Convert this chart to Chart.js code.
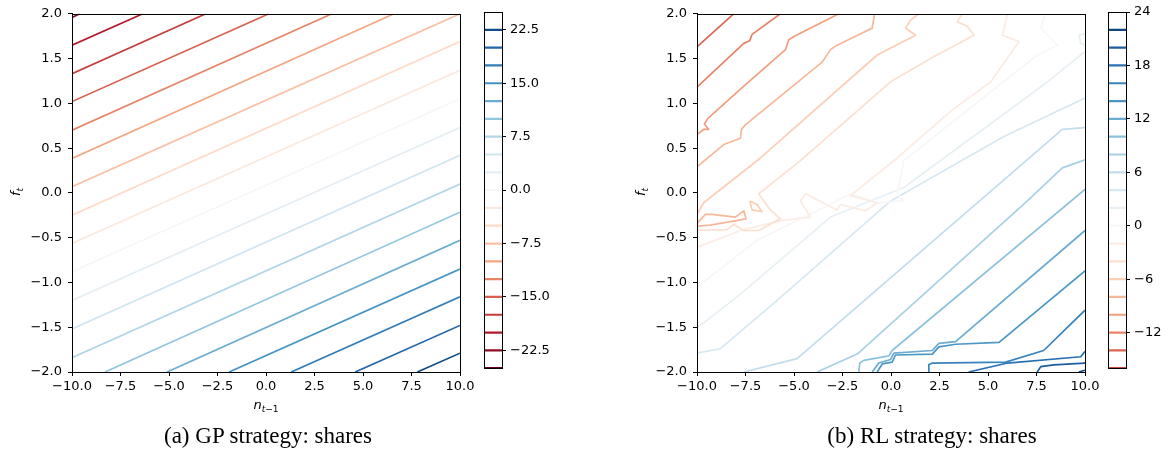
<!DOCTYPE html>
<html>
<head>
<meta charset="utf-8">
<script src="https://cdn.jsdelivr.net/npm/chart.js@4.4.1/dist/chart.umd.min.js"></script>
<style>
  body { margin: 0; width: 1169px; height: 463px; background: #fff; position: relative; overflow: hidden; }
  canvas { position: absolute; top: 0; }
  .lbl { position: absolute; color: #000; white-space: nowrap; font-family: "DejaVu Sans"; font-size: 13px; transform: translate(-50%, -50%); }
  .lbl sub { font-size: 70%; vertical-align: -3px; }
  .ylab { transform: translate(-50%, -50%) rotate(-90deg); }
  .cap { position: absolute; font-family: "Liberation Serif"; font-size: 23px; white-space: nowrap; transform: translate(-50%, -50%); color: #000; }
</style>
</head>
<body>
<canvas id="gp" width="480" height="420" style="left:0"></canvas>
<canvas id="gpBar" width="100" height="380" style="left:470px"></canvas>
<canvas id="rl" width="480" height="420" style="left:625px"></canvas>
<canvas id="rlBar" width="75" height="380" style="left:1094px"></canvas>

<div class="lbl ylab" style="left:16px; top:192px"><i>f</i><sub><i>t</i></sub></div>
<div class="lbl" style="left:266px; top:405px"><i>n</i><sub><i>t</i>−1</sub></div>
<div class="lbl ylab" style="left:641px; top:192px"><i>f</i><sub><i>t</i></sub></div>
<div class="lbl" style="left:891px; top:405px"><i>n</i><sub><i>t</i>−1</sub></div>
<div class="cap" style="left:268px; top:436px">(a) GP strategy: shares</div>
<div class="cap" style="left:932px; top:436px">(b) RL strategy: shares</div>

<script>
// axis ticks shared by both panels
const nTicks = [-10, -7.5, -5, -2.5, 0, 2.5, 5, 7.5, 10];
const fTicks = [-2, -1.5, -1, -0.5, 0, 0.5, 1, 1.5, 2];

// GP strategy: contour levels and their lines in (n_{t-1}, f_t)
const gpLevels = [-22.5, -20, -17.5, -15, -12.5, -10, -7.5, -5, -2.5, 0, 2.5, 5, 7.5, 10, 12.5, 15, 17.5, 20, 22.5];
const gpPaths = [
  [[-10, 1.96], [-9.6, 2]],
  [[-10, 1.65], [-6.35, 2]],
  [[-10, 1.33], [-3.1, 2]],
  [[-10, 1.02], [0.15, 2]],
  [[-10, 0.70], [3.4, 2]],
  [[-10, 0.385], [6.6, 2]],
  [[-10, 0.07], [10, 2.0]],
  [[-10, -0.25], [10, 1.69]],
  [[-10, -0.565], [10, 1.37]],
  [[-10, -0.88], [10, 1.05]],
  [[-10, -1.20], [10, 0.73]],
  [[-10, -1.52], [10, 0.42]],
  [[-10, -1.84], [10, 0.10]],
  [[-8.3, -2], [10, -0.215]],
  [[-5.1, -2], [10, -0.53]],
  [[-1.9, -2], [10, -0.85]],
  [[1.3, -2], [10, -1.16]],
  [[4.6, -2], [10, -1.48]],
  [[7.8, -2], [10, -1.79]]
];
const gpBarLevels = [-25, -22.5, -20, -17.5, -15, -12.5, -10, -7.5, -5, -2.5, 0, 2.5, 5, 7.5, 10, 12.5, 15, 17.5, 20, 22.5, 25];
const gpBarTicks = [-22.5, -15, -7.5, 0, 7.5, 15, 22.5];

// RL strategy: one level per path (a level can have several paths)
const rlLevels = [-14, -12, -10, -8, -8, -6, -6, -4, -2, 0, 2, 2, 4, 6, 8, 10, 12, 14, 16, 18, 20, 22];
const rlPaths = [
  [[-10, 1.63], [-8.11, 2]],
  [[-10, 1.18], [-7.59, 1.67], [-7.28, 1.70], [-7.16, 1.77], [-5.70, 2]],
  [[-10, 0.65], [-9.66, 0.71], [-9.40, 0.71], [-9.62, 0.77], [-9.45, 0.83], [-7.76, 1.16], [-5.44, 1.60], [-5.27, 1.71], [-4.98, 1.75], [-2.69, 2]],
  [[-10, 0.29], [-8.62, 0.54], [-7.76, 0.61], [-7.71, 0.71], [-7.51, 0.76], [-3.55, 1.46], [-3.12, 1.60], [-2.78, 1.65], [-0.97, 1.84], [-0.85, 2]],
  [[-10, -0.34], [-9.57, -0.24], [-9.23, -0.24], [-8.02, -0.27], [-7.59, -0.2], [-7.47, -0.29], [-8.28, -0.32], [-9.31, -0.36], [-10, -0.37]],
  [[-10, -0.24], [-9.66, -0.11], [-6.73, 0.39], [-0.71, 1.54], [1.27, 1.76], [0.75, 1.84], [1.01, 1.93], [1.44, 2]],
  [[-7.28, -0.09], [-7.16, -0.19], [-6.65, -0.21], [-6.90, -0.13], [-7.28, -0.09]],
  [[-10, -0.42], [-8.45, -0.41], [-8.11, -0.35], [-7.59, -0.42], [-6.82, -0.42], [-5.70, -0.29], [-6.22, -0.19], [-6.82, -0.01], [-4.67, 0.36], [-0.02, 1.24], [2.04, 1.50], [4.28, 1.76], [3.93, 1.86], [3.42, 1.91], [3.67, 2]],
  [[-10, -0.61], [-7.76, -0.42], [-5.70, -0.31], [-4.15, -0.27], [-4.67, -0.09], [-4.41, -0.01], [-2.78, -0.19], [-2.60, -0.13], [-1.31, -0.20], [-0.71, -0.11], [-2.09, -0.03], [0.32, 0.39], [3.07, 0.91], [5.14, 1.24], [6.60, 1.69], [5.74, 1.76], [5.91, 1.91], [6.00, 2]],
  [[-10, -1.05], [-6.90, -0.53], [-3.46, -0.16], [-2.09, -0.01], [-0.71, -0.11], [0.66, -0.09], [0.32, -0.01], [0.66, 0.36], [7.54, 1.54], [8.58, 1.65], [7.72, 1.84], [7.97, 2]],
  [[-10, -1.51], [-7.76, -1.13], [-3.12, -0.27], [0.66, 0.06], [7.89, 1.21], [10, 1.58]],
  [[10, 1.78], [9.69, 1.76], [9.78, 1.67], [10, 1.65]],
  [[-10, -1.79], [-8.80, -1.74], [-5.87, -1.20], [-0.02, -0.09], [5.82, 0.63], [10, 1.06]],
  [[-7.59, -2], [-4.84, -1.85], [8.83, 0.71], [10, 0.73]],
  [[-3.81, -2], [-2.78, -1.90], [-1.74, -1.80], [7.03, -0.09], [8.83, 0.28], [10, 0.37]],
  [[-1.66, -2], [-1.61, -1.90], [-1.40, -1.87], [-0.11, -1.82], [0.06, -1.76], [10, 0.04]],
  [[-0.97, -2], [-0.63, -1.90], [-0.02, -1.86], [0.15, -1.79], [2.13, -1.76], [2.47, -1.68], [3.33, -1.66], [10, -0.42]],
  [[-0.71, -2], [-0.45, -1.91], [0.06, -1.89], [0.23, -1.81], [2.13, -1.80], [2.47, -1.72], [3.33, -1.69], [5.57, -1.67], [10, -0.87]],
  [[1.95, -2], [1.95, -1.92], [2.13, -1.90], [5.91, -1.89], [7.87, -1.76], [10, -1.31]],
  [[4.0, -2], [6.0, -1.90], [9.78, -1.83], [10, -1.77]],
  [[7.54, -2], [7.72, -1.94], [8.39, -1.92], [10, -1.90]],
  [[9.68, -2], [10, -1.98]]
];
const rlBarLevels = [-16, -14, -12, -10, -8, -6, -4, -2, 0, 2, 4, 6, 8, 10, 12, 14, 16, 18, 20, 22, 24];
const rlBarTicks = [-12, -6, 0, 6, 12, 18, 24];

// RdBu colour map
const RDBU = ['#67001f', '#b2182b', '#d6604d', '#f4a582', '#fddbc7', '#f7f7f7', '#d1e5f0', '#92c5de', '#4393c3', '#2166ac', '#053061'];

function hexRgb(h) {
  return [1, 3, 5].map(i => parseInt(h.slice(i, i + 2), 16));
}

function rdbu(t) {
  t = Math.min(1, Math.max(0, t));
  const s = t * 10;
  const i = Math.min(9, Math.floor(s));
  const u = s - i;
  const a = hexRgb(RDBU[i]), b = hexRgb(RDBU[i + 1]);
  const c = a.map((v, k) => Math.round(v + (b[k] - v) * u));
  return `rgb(${c[0]},${c[1]},${c[2]})`;
}

const minus = s => s.replace('-', '\u2212');
const FONT = { family: 'DejaVu Sans', size: 13 };

// black box round the plot area
const frame = {
  id: 'frame',
  afterDraw(chart) {
    const { ctx, chartArea: a } = chart;
    ctx.save();
    ctx.strokeStyle = '#000';
    ctx.lineWidth = 1;
    ctx.strokeRect(Math.round(a.left) + 0.5, Math.round(a.top) + 0.5, Math.round(a.right - a.left), Math.round(a.bottom - a.top));
    ctx.restore();
  }
};

function axis(min, max, ticks, extra) {
  return Object.assign({
    type: 'linear', min, max,
    afterBuildTicks: s => { s.ticks = ticks.map(v => ({ value: v })); },
    grid: { drawOnChartArea: false, tickLength: 4, color: '#000', tickWidth: 1 },
    border: { color: '#000', width: 1 },
    ticks: { font: FONT, color: '#000', maxRotation: 0, autoSkip: false }
  }, extra);
}

function contourChart(id, levels, paths, range) {
  const datasets = paths.map((p, i) => ({
    data: p.map(([x, y]) => ({ x, y })),
    showLine: true,
    borderColor: rdbu(0.5 + levels[i] / (2 * range)),
    borderWidth: 1.7,
    pointRadius: 0,
    fill: false,
    tension: 0,
    borderJoinStyle: 'round'
  }));
  const x = axis(-10, 10, nTicks, { afterFit: s => { s.height = 48; } });
  x.ticks.padding = 3;
  x.ticks.callback = v => minus(v.toFixed(1));
  const y = axis(-2, 2, fTicks, { afterFit: s => { s.width = 72; } });
  y.ticks.padding = 6;
  y.ticks.callback = v => minus(v.toFixed(1));
  return new Chart(document.getElementById(id), {
    type: 'scatter',
    data: { datasets },
    options: {
      responsive: false, animation: false, events: [],
      layout: { padding: { left: 0, right: 20, top: 12, bottom: 0 } },
      plugins: { legend: { display: false }, tooltip: { enabled: false } },
      scales: { x, y }
    },
    plugins: [frame]
  });
}

function colorBar(id, levels, ticks, range, digits, axisWidth, padRight) {
  const datasets = levels.map(v => ({
    data: [{ x: 0, y: v }, { x: 1, y: v }],
    showLine: true,
    borderColor: rdbu(0.5 + v / (2 * range)),
    borderWidth: 2.2,
    pointRadius: 0
  }));
  const y = axis(levels[0], levels[levels.length - 1], ticks, {
    position: 'right',
    afterFit: s => { s.width = axisWidth; }
  });
  y.ticks.padding = 4;
  y.ticks.callback = v => minus(v.toFixed(digits));
  return new Chart(document.getElementById(id), {
    type: 'scatter',
    data: { datasets },
    options: {
      responsive: false, animation: false, events: [],
      layout: { padding: { left: 14, right: padRight, top: 12, bottom: 8 } },
      plugins: { legend: { display: false }, tooltip: { enabled: false } },
      scales: { x: { type: 'linear', min: 0, max: 1, display: false }, y }
    },
    plugins: [frame]
  });
}

contourChart('gp', gpLevels, gpPaths, 25);
colorBar('gpBar', gpBarLevels, gpBarTicks, 25, 1, 60, 8);
contourChart('rl', rlLevels, rlPaths, 24);
colorBar('rlBar', rlBarLevels, rlBarTicks, 24, 0, 40, 3);
</script>
</body>
</html>
